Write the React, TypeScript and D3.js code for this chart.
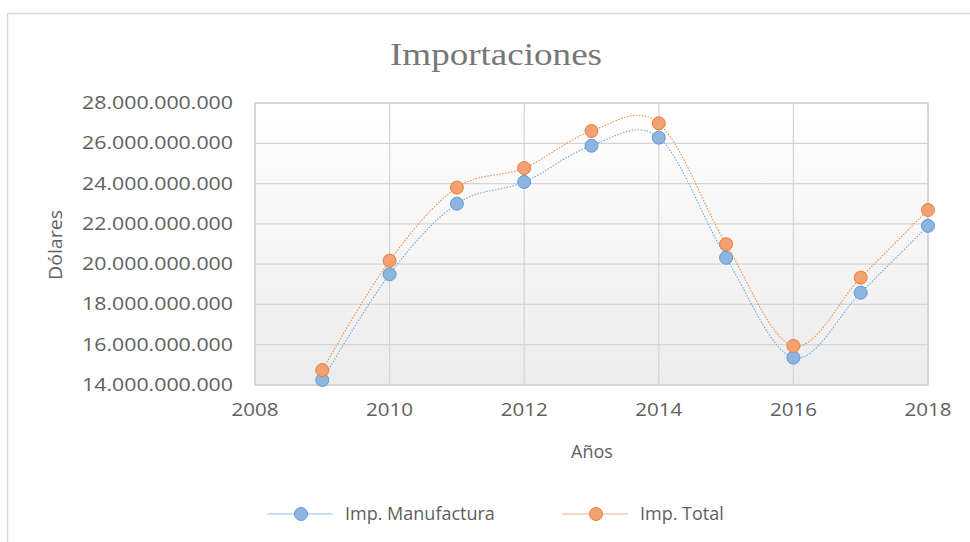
import React from "react";
import * as d3 from "d3";

const years = [2009, 2010, 2011, 2012, 2013, 2014, 2015, 2016, 2017, 2018];
const manufactura = [14.25, 19.5, 23.0, 24.08, 25.88, 26.28, 20.32, 15.36, 18.58, 21.9].map((v) => v * 1e9);
const total = [14.74, 20.17, 23.8, 24.77, 26.61, 26.99, 20.99, 15.94, 19.33, 22.69].map((v) => v * 1e9);
const yTicks = [14, 16, 18, 20, 22, 24, 26, 28].map((v) => v * 1e9);
const xTicks = [2008, 2010, 2012, 2014, 2016, 2018];

const W = 970;
const H = 542;
const plot = { left: 255, right: 928, top: 103, bottom: 385 };
const BLUE = "#5B9BD5";
const ORANGE = "#ED7D31";
const TEXT = "#606060";
const FONT = "'Open Sans', 'Noto Sans', sans-serif";

const fmt = (v: number) => d3.format(",")(v).replace(/,/g, ".");

export default function App() {
  const x = d3.scaleLinear().domain([2008, 2018]).range([plot.left, plot.right]);
  const y = d3.scaleLinear().domain([14e9, 28e9]).range([plot.bottom, plot.top]);
  const line = d3
    .line<number>()
    .x((_, i) => x(years[i]))
    .y((d) => y(d))
    .curve(d3.curveCardinal.tension(0));

  const series = [
    { name: "Imp. Manufactura", data: manufactura, color: BLUE, fill: "#8FB4E0", lx: 267, tx: 345 },
    { name: "Imp. Total", data: total, color: ORANGE, fill: "#F2A172", lx: 562, tx: 640 },
  ];

  return (
    <div style={{ position: "fixed", left: 0, top: 0 }}>
      <svg width={W} height={H} style={{ display: "block", background: "#fff" }}>
        <defs>
          <linearGradient id="bg" x1="0" y1="0" x2="0" y2="1">
            <stop offset="0" stopColor="#ffffff" />
            <stop offset="1" stopColor="#ececec" />
          </linearGradient>
        </defs>
        <rect x={7.5} y={13.5} width={W + 20} height={H + 20} fill="none" stroke="#d9d9d9" strokeWidth={1.5} />
        <text
          x={496}
          y={65}
          textAnchor="middle"
          fontFamily="'Liberation Serif', 'DejaVu Serif', serif"
          fontSize={32}
          fill="#777777"
          textLength={212}
          lengthAdjust="spacingAndGlyphs"
        >
          Importaciones
        </text>
        <rect
          x={plot.left}
          y={plot.top}
          width={plot.right - plot.left}
          height={plot.bottom - plot.top}
          fill="url(#bg)"
        />
        {yTicks.map((t) => (
          <line key={"gy" + t} x1={plot.left} x2={plot.right} y1={y(t)} y2={y(t)} stroke="#d4d4d4" strokeWidth={1.2} />
        ))}
        {xTicks.map((t) => (
          <line key={"gx" + t} x1={x(t)} x2={x(t)} y1={plot.top} y2={plot.bottom} stroke="#d4d4d4" strokeWidth={1.2} />
        ))}
        <rect
          x={plot.left}
          y={plot.top}
          width={plot.right - plot.left}
          height={plot.bottom - plot.top}
          fill="none"
          stroke="#cfcfcf"
          strokeWidth={1.2}
        />
        {yTicks.map((t) => (
          <text
            key={"ly" + t}
            x={233}
            y={y(t) + 6}
            textAnchor="end"
            fontFamily={FONT}
            fontSize={18}
            fill={TEXT}
            textLength={151}
            lengthAdjust="spacingAndGlyphs"
          >
            {fmt(t)}
          </text>
        ))}
        {xTicks.map((t) => (
          <text
            key={"lx" + t}
            x={x(t)}
            y={plot.bottom + 31}
            textAnchor="middle"
            fontFamily={FONT}
            fontSize={18}
            fill={TEXT}
            textLength={47}
            lengthAdjust="spacingAndGlyphs"
          >
            {t}
          </text>
        ))}
        <text x={592} y={458} textAnchor="middle" fontFamily={FONT} fontSize={18} fill={TEXT}>
          Años
        </text>
        <text
          transform="translate(62,245) rotate(-90)"
          textAnchor="middle"
          fontFamily={FONT}
          fontSize={18}
          fill={TEXT}
          textLength={70}
          lengthAdjust="spacingAndGlyphs"
        >
          Dólares
        </text>
        {series.map((s) => (
          <g key={s.name}>
            <path d={line(s.data) || ""} fill="none" stroke={s.color} strokeWidth={1.1} strokeDasharray="1.5,1.5" opacity={0.85} />
            {s.data.map((v, i) => (
              <circle key={i} cx={x(years[i])} cy={y(v)} r={6.5} fill={s.fill} stroke={s.color} strokeWidth={1} />
            ))}
          </g>
        ))}
        {series.map((s) => (
          <g key={"lg" + s.name}>
            <line x1={s.lx} x2={s.lx + 66} y1={514} y2={514} stroke={s.color} strokeWidth={1.2} opacity={0.6} />
            <circle cx={s.lx + 34} cy={514} r={6.5} fill={s.fill} stroke={s.color} strokeWidth={1} />
            <text x={s.tx} y={520} fontFamily={FONT} fontSize={18} fill={TEXT}>
              {s.name}
            </text>
          </g>
        ))}
      </svg>
    </div>
  );
}
